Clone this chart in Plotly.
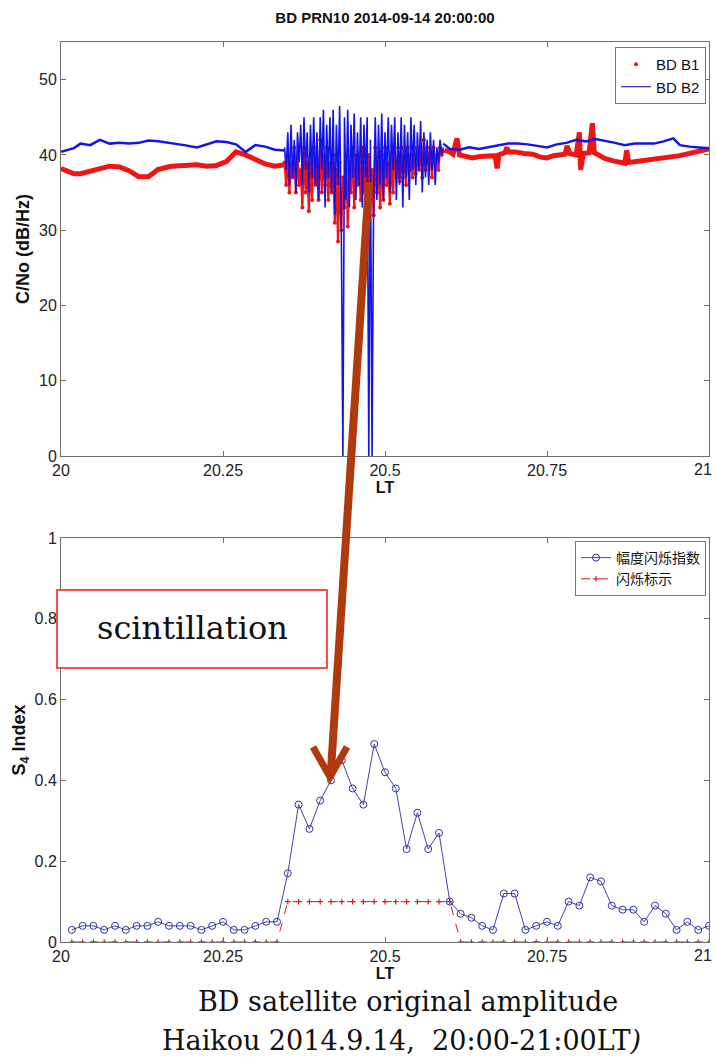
import numpy as np
import plotly.graph_objects as go

# ---------------- top panel: C/No (dB/Hz) ----------------
t_left = [20.000, 20.010, 20.020, 20.030, 20.045, 20.060, 20.075, 20.090, 20.105, 20.120,
          20.135, 20.150, 20.170, 20.190, 20.210, 20.225, 20.240, 20.255, 20.270, 20.285,
          20.300, 20.315, 20.330, 20.345]
b2_left = [40.4, 40.6, 40.9, 41.5, 41.3, 42.0, 41.5, 41.6, 41.5, 41.6,
           41.9, 41.8, 41.6, 41.3, 41.0, 41.4, 41.8, 41.7, 41.4, 40.4,
           41.3, 41.1, 40.7, 40.6]
b1_left = [38.2, 37.8, 37.5, 37.5, 37.8, 38.2, 38.5, 38.4, 37.9, 37.1,
           37.1, 38.1, 38.5, 38.6, 38.7, 38.5, 38.6, 39.1, 40.4, 40.0,
           39.4, 38.8, 38.5, 38.7]

# scintillation interval 20.345 - 20.59 LT, sampled every 0.0025 h
t_scint = np.round(20.345 + 0.0025 * np.arange(99), 4)
b2_scint = [41, 38, 43, 36, 44, 37, 42, 35, 43, 39,
            44, 36, 45, 38, 43, 35, 44, 37, 45, 36,
            43, 34, 45, 38, 46, 33, 44, 37, 45, 35,
            46, 32, 44, 36, 46.5, 31, 0, 45, 34, 46,
            33, 44, 37, 45.5, 34, 43, 36, 45, 33, 44,
            37, 45, 0, 42, 0, 35, 45, 34, 44, 36,
            45.5, 34, 43, 37, 45, 35, 44, 38, 45, 34,
            43, 36, 45, 33, 44, 37, 43, 34, 45, 38,
            44, 36, 43, 38, 44.5, 35, 43, 37, 42, 36,
            43, 38, 42, 36, 41, 39, 42, 40, 41]
b1_scint = [39, 36, 40, 35, 39, 37, 41, 35, 40, 36,
            38, 33, 41, 35, 39, 32.5, 40, 34, 41, 36,
            39, 34, 42, 35, 40, 36, 41, 34, 39, 35,
            40, 31, 38, 28.5, 39, 30, 37, 33, 40, 30.5,
            38, 35, 41, 33, 40, 36, 39, 34, 41, 35,
            39, 32, 40, 34, 38, 32, 41, 35, 39, 33,
            40, 34, 41, 36, 39, 33.5, 40, 35, 41, 37,
            39, 36.5, 41, 37, 40, 36, 41, 38, 40, 37,
            41, 37.5, 40, 38, 41, 37, 42, 38, 41, 39,
            40, 37, 41, 39, 40, 38, 41, 40, 40.5]

t_b2_right = [20.590, 20.600, 20.615, 20.630, 20.645, 20.660, 20.675, 20.690, 20.705, 20.720,
              20.735, 20.750, 20.765, 20.780, 20.795, 20.810, 20.825, 20.840, 20.855, 20.870,
              20.885, 20.900, 20.915, 20.930, 20.945, 20.955, 20.970, 20.985, 21.000]
b2_right = [41.5, 40.8, 40.7, 41.0, 40.8, 41.0, 41.2, 41.5, 41.5, 41.4,
            41.2, 41.0, 41.4, 41.6, 42.0, 41.8, 42.1, 41.9, 41.6, 41.3,
            41.5, 41.5, 41.5, 41.8, 42.2, 41.3, 41.1, 41.0, 40.9]

t_b1_right = [20.592, 20.600, 20.605, 20.611, 20.615, 20.625, 20.635, 20.647, 20.660, 20.670,
              20.673, 20.676, 20.685, 20.688, 20.691, 20.700, 20.715, 20.728, 20.740, 20.750,
              20.760, 20.770, 20.778, 20.781, 20.785, 20.795, 20.800, 20.802, 20.806, 20.815,
              20.820, 20.823, 20.830, 20.840, 20.852, 20.863, 20.870, 20.873, 20.876, 20.885,
              20.895, 20.910, 20.925, 20.940, 20.955, 20.970, 20.985, 21.000]
b1_right = [40.6, 40.4, 40.1, 42.2, 40.0, 39.8, 39.6, 39.8, 39.9, 39.9,
            38.2, 40.0, 40.3, 41.0, 40.4, 40.4, 40.2, 40.1, 39.7, 39.6,
            39.9, 40.0, 40.1, 41.2, 40.2, 40.0, 43.0, 38.0, 40.2, 40.3,
            44.2, 40.3, 40.0, 39.5, 39.2, 39.0, 38.9, 40.6, 39.0, 39.1,
            39.2, 39.3, 39.5, 39.6, 39.9, 40.2, 40.5, 40.8]

# ---------------- bottom panel: S4 index ----------------
s4_minutes = list(range(1, 61))
s4_index = [0.03, 0.04, 0.04, 0.03, 0.04, 0.03, 0.04, 0.04, 0.05, 0.04,
            0.04, 0.04, 0.03, 0.04, 0.05, 0.03, 0.03, 0.04, 0.05, 0.05,
            0.17, 0.34, 0.28, 0.35, 0.40, 0.45, 0.38, 0.34, 0.49, 0.42,
            0.38, 0.23, 0.32, 0.23, 0.27, 0.10, 0.07, 0.06, 0.04, 0.03,
            0.12, 0.12, 0.03, 0.04, 0.05, 0.04, 0.10, 0.09, 0.16, 0.15,
            0.09, 0.08, 0.08, 0.05, 0.09, 0.07, 0.03, 0.05, 0.03, 0.04]
scint_flag = [0, 0, 0, 0, 0, 0, 0, 0, 0, 0,
              0, 0, 0, 0, 0, 0, 0, 0, 0, 0,
              0.1, 0.1, 0.1, 0.1, 0.1, 0.1, 0.1, 0.1, 0.1, 0.1,
              0.1, 0.1, 0.1, 0.1, 0.1, 0.1, 0, 0, 0, 0,
              0, 0, 0, 0, 0, 0, 0, 0, 0, 0,
              0, 0, 0, 0, 0, 0, 0, 0, 0, 0]
s4_lt = [20 + m / 60 for m in s4_minutes]

x_tickvals = [20, 20.25, 20.5, 20.75, 21]
x_ticktext = ["20", "20.25", "20.5", "20.75", ""]
x_last_label = "21"   # drawn as annotation so it stays inside the page
y1_tickvals = [0, 10, 20, 30, 40, 50]
y2_tickvals = [0, 0.2, 0.4, 0.6, 0.8, 1]
y2_ticktext = ["0", "0.2", "0.4", "0.6", "0.8", "1"]

RED = "#f01414"
BLUE = "#1414e6"

fig = go.Figure()

# B1 (red dots, dense band)
for tt, vv in [(t_left, b1_left), (t_b1_right, b1_right)]:
    fig.add_trace(go.Scatter(x=tt, y=vv, mode="lines", line=dict(color=RED, width=5),
                             showlegend=False, hoverinfo="skip", xaxis="x", yaxis="y"))
fig.add_trace(go.Scatter(x=t_scint, y=b1_scint, mode="lines+markers",
                         line=dict(color=RED, width=2.2), marker=dict(color=RED, size=4),
                         showlegend=False, hoverinfo="skip", xaxis="x", yaxis="y"))
# B2 (blue line)
for tt, vv in [(t_left, b2_left), (t_b2_right, b2_right)]:
    fig.add_trace(go.Scatter(x=tt, y=vv, mode="lines", line=dict(color=BLUE, width=2.5),
                             showlegend=False, hoverinfo="skip", xaxis="x", yaxis="y"))
fig.add_trace(go.Scatter(x=t_scint, y=b2_scint, mode="lines",
                         line=dict(color=BLUE, width=1.6),
                         showlegend=False, hoverinfo="skip", xaxis="x", yaxis="y"))
# legend entries
fig.add_trace(go.Scatter(x=[None], y=[None], mode="markers", name="BD B1",
                         marker=dict(color=RED, size=4), legend="legend", xaxis="x", yaxis="y"))
fig.add_trace(go.Scatter(x=[None], y=[None], mode="lines", name="BD B2",
                         line=dict(color="#0000a0", width=1), legend="legend", xaxis="x", yaxis="y"))

# bottom panel
fig.add_trace(go.Scatter(x=s4_lt, y=s4_index, mode="lines+markers", name="幅度闪烁指数",
                         line=dict(color="#4040b8", width=1),
                         marker=dict(symbol="circle-open", size=7, color="#3030a8", line=dict(width=1)),
                         legend="legend2", xaxis="x2", yaxis="y2"))
fig.add_trace(go.Scatter(x=s4_lt, y=scint_flag, mode="lines+markers", name="闪烁标示",
                         line=dict(color="#d42020", width=1, dash="dash"),
                         marker=dict(symbol="cross-thin", size=4, color="#d42020",
                                     line=dict(width=1.2, color="#d42020")),
                         legend="legend2", xaxis="x2", yaxis="y2"))

AX = "#6e6e6e"
TICKFONT = dict(family="Liberation Sans Narrow, Liberation Sans, Arial", size=16, color="#222")
common_x = dict(range=[20, 21.00001], tickvals=x_tickvals, ticktext=x_ticktext, ticks="inside",
                ticklen=5, tickcolor=AX, showline=True, linecolor=AX, linewidth=1, mirror="ticks",
                showgrid=False, zeroline=False, tickfont=TICKFONT, automargin=False)
common_y = dict(ticks="inside", ticklen=5, tickcolor=AX, showline=True, linecolor=AX, linewidth=1,
                mirror="ticks", showgrid=False, zeroline=False, tickfont=TICKFONT,
                ticklabeloverflow="allow", automargin=False)

def px(x):
    return (x - 61) / 648

def py(y):
    return (942 - y) / 900

TITLEFONT = dict(family="Liberation Sans", size=18, color="#111")

fig.update_layout(
    width=716, height=1059, autosize=False,
    margin=dict(l=61, r=7, t=42, b=117, autoexpand=False),
    paper_bgcolor="white", plot_bgcolor="white",
    title=dict(text="<b>BD PRN10 2014-09-14 20:00:00</b>", x=px(385), xref="paper",
               y=1 - 18 / 1059, yanchor="middle", xanchor="center",
               font=dict(family="Liberation Sans Narrow, Liberation Sans, Arial", size=15, color="#111")),
    xaxis=dict(domain=[0, 1], anchor="y",
               title=dict(text="<b>LT</b>", standoff=1,
                          font=dict(family="Liberation Sans", size=16, color="#111")),
               **common_x),
    yaxis=dict(domain=[py(456), 1], anchor="x", range=[0, 55], tickvals=y1_tickvals,
               title=dict(text="<b>C/No (dB/Hz)</b>", standoff=4, font=TITLEFONT),
               **common_y),
    xaxis2=dict(domain=[0, 1], anchor="y2",
                title=dict(text="<b>LT</b>", standoff=1,
                           font=dict(family="Liberation Sans", size=16, color="#111")),
                **common_x),
    yaxis2=dict(domain=[0, py(538)], anchor="x2", range=[0, 1], tickvals=y2_tickvals,
                ticktext=y2_ticktext,
                title=dict(text="<b>S<sub>4</sub> Index</b>", standoff=4, font=TITLEFONT),
                **common_y),
    legend=dict(x=px(706), y=py(47), xanchor="right", yanchor="top", bgcolor="white",
                bordercolor="#777", borderwidth=1, itemwidth=30, tracegroupgap=0,
                font=dict(family="Liberation Sans Narrow, Liberation Sans, Arial", size=15, color="#111")),
    legend2=dict(x=px(706), y=py(541), xanchor="right", yanchor="top", bgcolor="white",
                 bordercolor="#777", borderwidth=1, itemwidth=30, tracegroupgap=0,
                 font=dict(family="Noto Sans CJK SC", size=14, color="#111")),
    shapes=[
        dict(type="rect", xref="paper", yref="paper", x0=px(57), x1=px(327), y0=py(668), y1=py(590),
             line=dict(color="#ff1010", width=1.5), fillcolor="white", layer="above"),
        dict(type="line", xref="paper", yref="paper", x0=px(369), y0=py(182), x1=px(331), y1=py(770),
             line=dict(color="#b03a0e", width=8), layer="above"),
        dict(type="path", xref="paper", yref="paper",
             path=f"M {px(313)},{py(747)} L {px(330)},{py(777)} L {px(347)},{py(747)}",
             line=dict(color="#b03a0e", width=7), layer="above"),
    ],
    annotations=[
        dict(text=x_last_label, xref="paper", yref="paper", x=px(714), y=py(469),
             showarrow=False, xanchor="right", yanchor="middle", font=TICKFONT),
        dict(text=x_last_label, xref="paper", yref="paper", x=px(714), y=py(955),
             showarrow=False, xanchor="right", yanchor="middle", font=TICKFONT),
        dict(text="scintillation", xref="paper", yref="paper", x=px(192), y=py(628),
             showarrow=False, xanchor="center", yanchor="middle",
             font=dict(family="DejaVu Serif", size=32, color="#111")),
        dict(text="BD satellite original amplitude", xref="paper", yref="paper",
             x=px(408), y=py(1001), showarrow=False, xanchor="center", yanchor="middle",
             font=dict(family="DejaVu Serif", size=27, color="#111")),
        dict(text="Haikou 2014.9.14,  20:00-21:00LT<i>)</i>", xref="paper", yref="paper",
             x=px(401), y=py(1040), showarrow=False, xanchor="center", yanchor="middle",
             font=dict(family="DejaVu Serif", size=27, color="#111")),
    ],
)

fig.write_html("out.html")
